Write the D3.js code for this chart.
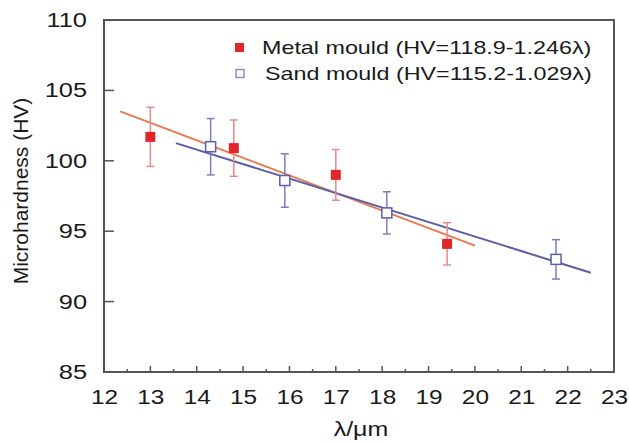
<!DOCTYPE html>
<html>
<head>
<meta charset="utf-8">
<script src="https://cdn.jsdelivr.net/npm/d3@7"></script>
<style>
  body { margin: 0; background: #fff; }
  text { font-family: "Liberation Sans", Arial, sans-serif; fill: #1a1a1a; }
</style>
</head>
<body>
<div id="chart"></div>
<script>
// data
const metalX = [13.0, 14.8, 17.0, 19.4]
const metalY = [101.7, 100.9, 99.0, 94.1]
const metalErr = [2.1, 2.0, 1.8, 1.5]

const sandX = [14.3, 15.9, 18.1, 21.75]
const sandY = [101.0, 98.6, 96.3, 93.0]
const sandErr = [2.0, 1.9, 1.5, 1.4]

// fitted lines HV = a - b*lambda and their drawn range
const metalFit = [118.9, 1.246]
const sandFit = [115.2, 1.029]
const metalRange = [12.35, 20.0]
const sandRange = [13.55, 22.5]

const xTicks = [12, 13, 14, 15, 16, 17, 18, 19, 20, 21, 22, 23]
const yTicks = [85, 90, 95, 100, 105, 110]
const legendLabels = ['Metal mould (HV=118.9-1.246\u03bb)', 'Sand mould (HV=115.2-1.029\u03bb)']

const width = 629, height = 442
const margin = { top: 20, right: 15, bottom: 70, left: 104 }

// the original picture is wider than tall, so text looks stretched
function stretch(sel, k) {
  sel.each(function () {
    const w = this.getComputedTextLength()
    d3.select(this)
      .attr('textLength', w * k)
      .attr('lengthAdjust', 'spacingAndGlyphs')
  })
}

const svg = d3.select('#chart').append('svg')
  .attr('width', width)
  .attr('height', height)

const x = d3.scaleLinear().domain([12, 23]).range([margin.left, width - margin.right])
const y = d3.scaleLinear().domain([85, 110]).range([height - margin.bottom, margin.top])

const frameColor = '#555'

// frame
svg.append('rect')
  .attr('x', x(12))
  .attr('y', y(110))
  .attr('width', x(23) - x(12))
  .attr('height', y(85) - y(110))
  .attr('fill', 'none')
  .attr('stroke', frameColor)
  .attr('stroke-width', 2)

// x axis: major ticks inward + half minor ticks
const xAxis = d3.axisBottom(x).tickValues(xTicks).tickSize(0).tickPadding(17.5)
const gx = svg.append('g')
  .attr('transform', 'translate(0,' + y(85) + ')')
  .call(xAxis)
gx.select('.domain').remove()
gx.selectAll('text')
  .attr('font-size', 20)
  .style('font-family', '"Liberation Sans", Arial, sans-serif')
  .style('fill', '#1a1a1a')
  .call(stretch, 1.22)

const minor = d3.range(12.5, 23, 1)
svg.append('g').selectAll('line')
  .data(xTicks.slice(1, -1))
  .enter().append('line')
  .attr('x1', d => x(d)).attr('x2', d => x(d))
  .attr('y1', y(85)).attr('y2', y(85) - 6)
  .attr('stroke', frameColor).attr('stroke-width', 1.5)
svg.append('g').selectAll('line')
  .data(minor)
  .enter().append('line')
  .attr('x1', d => x(d)).attr('x2', d => x(d))
  .attr('y1', y(85)).attr('y2', y(85) - 3)
  .attr('stroke', frameColor).attr('stroke-width', 1.5)

// y axis
const yAxis = d3.axisLeft(y).tickValues(yTicks).tickSize(0).tickPadding(17)
const gy = svg.append('g')
  .attr('transform', 'translate(' + x(12) + ',0)')
  .call(yAxis)
gy.select('.domain').remove()
gy.selectAll('text')
  .attr('font-size', 20)
  .style('font-family', '"Liberation Sans", Arial, sans-serif')
  .style('fill', '#1a1a1a')
  .call(stretch, 1.27)

svg.append('g').selectAll('line')
  .data(yTicks.slice(1, -1))
  .enter().append('line')
  .attr('x1', x(12)).attr('x2', x(12) + 10)
  .attr('y1', d => y(d)).attr('y2', d => y(d))
  .attr('stroke', frameColor).attr('stroke-width', 1.5)

// axis titles
svg.append('text')
  .attr('transform', 'translate(28,191) rotate(-90)')
  .attr('text-anchor', 'middle')
  .attr('font-size', 20)
  .text('Microhardness (HV)')
  .call(stretch, 1.05)

svg.append('text')
  .attr('x', 361)
  .attr('y', 436)
  .attr('text-anchor', 'middle')
  .attr('font-size', 20)
  .text('\u03bb/\u03bcm')
  .call(stretch, 1.25)

// fit lines
function fitLine(fit, range, color) {
  const pts = range.map(l => [l, fit[0] - fit[1] * l])
  svg.append('path')
    .attr('d', d3.line().x(d => x(d[0])).y(d => y(d[1]))(pts))
    .attr('stroke', color)
    .attr('stroke-width', 2)
    .attr('fill', 'none')
}
fitLine(metalFit, metalRange, '#e6794f')
fitLine(sandFit, sandRange, '#5b5fa3')

// error bars + markers
function series(xs, ys, errs, barColor, draw) {
  const g = svg.append('g')
  const data = xs.map((v, i) => ({ x: v, y: ys[i], e: errs[i] }))
  const eb = g.selectAll('.eb').data(data).enter().append('g')
  eb.append('line')
    .attr('x1', d => x(d.x)).attr('x2', d => x(d.x))
    .attr('y1', d => y(d.y + d.e)).attr('y2', d => y(d.y - d.e))
    .attr('stroke', barColor).attr('stroke-width', 1.5)
  eb.append('line')
    .attr('x1', d => x(d.x) - 4).attr('x2', d => x(d.x) + 4)
    .attr('y1', d => y(d.y + d.e)).attr('y2', d => y(d.y + d.e))
    .attr('stroke', barColor).attr('stroke-width', 1.5)
  eb.append('line')
    .attr('x1', d => x(d.x) - 4).attr('x2', d => x(d.x) + 4)
    .attr('y1', d => y(d.y - d.e)).attr('y2', d => y(d.y - d.e))
    .attr('stroke', barColor).attr('stroke-width', 1.5)
  draw(g, data)
}

series(metalX, metalY, metalErr, '#e58a8a', function (g, data) {
  g.selectAll('rect').data(data).enter().append('rect')
    .attr('x', d => x(d.x) - 5).attr('y', d => y(d.y) - 5)
    .attr('width', 10).attr('height', 10)
    .attr('fill', '#e0262a')
})

series(sandX, sandY, sandErr, '#7b7fbf', function (g, data) {
  g.selectAll('rect').data(data).enter().append('rect')
    .attr('x', d => x(d.x) - 5).attr('y', d => y(d.y) - 5)
    .attr('width', 10).attr('height', 10)
    .attr('fill', '#fff')
    .attr('stroke', '#5b5fb0')
    .attr('stroke-width', 1.5)
})

// legend
const legend = svg.append('g')
legend.append('rect')
  .attr('x', 235).attr('y', 43).attr('width', 9).attr('height', 9)
  .attr('fill', '#e0262a')
legend.append('rect')
  .attr('x', 236).attr('y', 69.5).attr('width', 8).attr('height', 8)
  .attr('fill', '#fff').attr('stroke', '#8a8cc4').attr('stroke-width', 1.5)
legend.append('text')
  .attr('x', 262).attr('y', 54)
  .attr('font-size', 18.5)
  .text(legendLabels[0])
  .call(stretch, 1.26)
legend.append('text')
  .attr('x', 265).attr('y', 80)
  .attr('font-size', 18.5)
  .text(legendLabels[1])
  .call(stretch, 1.26)
</script>
</body>
</html>
